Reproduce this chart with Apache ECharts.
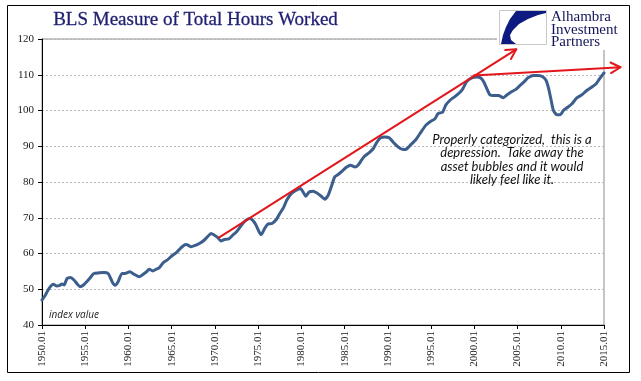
<!DOCTYPE html>
<html><head><meta charset="utf-8">
<script src="https://cdn.jsdelivr.net/npm/echarts@6/dist/echarts.min.js"></script>
<style>html,body{margin:0;padding:0;background:#fff}#c{width:641px;height:381px}</style>
</head><body><div id="c"></div>
<script>
const years = [1950.0,1950.4,1950.8,1951.3,1951.7,1952.05,1952.3,1952.55,1952.9,1953.3,1953.7,1954.1,1954.4,1954.8,1955.25,1955.6,1956.0,1956.6,1957.2,1957.65,1957.95,1958.15,1958.45,1958.8,1959.25,1959.6,1960.15,1960.65,1961.25,1961.6,1962.1,1962.4,1962.8,1963.2,1963.55,1964.0,1964.5,1965.0,1965.5,1966.0,1966.35,1966.7,1967.25,1967.75,1968.2,1968.65,1969.15,1969.55,1969.95,1970.3,1970.7,1971.1,1971.6,1972.05,1972.5,1973.0,1973.5,1974.0,1974.3,1974.7,1975.1,1975.35,1975.75,1976.1,1976.6,1977.1,1977.5,1977.95,1978.3,1978.85,1979.4,1979.9,1980.2,1980.5,1980.9,1981.35,1981.8,1982.3,1982.7,1983.1,1983.45,1983.85,1984.25,1984.75,1985.2,1985.7,1986.2,1986.55,1986.95,1987.3,1987.85,1988.3,1988.75,1989.15,1989.65,1990.15,1990.6,1991.2,1991.75,1992.15,1992.6,1993.25,1993.7,1994.4,1994.85,1995.45,1995.8,1996.35,1996.7,1997.25,1997.75,1998.25,1998.65,1999.1,1999.7,2000.3,2000.75,2001.1,2001.45,2001.8,2002.2,2002.8,2003.35,2003.8,2004.35,2004.8,2005.3,2005.75,2006.25,2006.85,2007.4,2007.95,2008.3,2008.6,2008.85,2009.15,2009.55,2009.95,2010.3,2010.8,2011.3,2011.85,2012.45,2013.0,2013.6,2014.1,2014.5,2015.0];
const hours = [47.0,48.4,50.2,51.4,50.9,51.1,51.5,51.2,53.0,53.3,52.6,51.4,50.7,51.2,52.3,53.3,54.4,54.6,54.7,54.4,53.0,51.9,51.1,52.1,54.4,54.4,54.9,54.2,53.5,54.0,54.9,55.6,55.1,55.6,56.0,57.4,58.2,59.3,60.2,61.4,62.2,62.5,61.9,62.3,62.8,63.5,64.7,65.6,65.1,64.5,63.5,63.9,64.1,65.1,66.1,67.7,69.1,69.8,69.5,68.2,66.1,65.3,67.0,68.2,68.4,69.5,71.2,72.9,74.9,76.8,77.7,78.2,77.2,76.0,77.2,77.4,76.9,76.0,75.2,76.3,78.6,81.4,82.1,83.1,84.1,84.7,84.2,84.7,86.1,87.2,88.2,89.3,91.2,92.4,92.6,92.4,91.2,89.8,89.1,89.2,90.3,91.9,93.5,95.9,96.8,97.7,99.1,99.6,101.5,103.0,103.9,104.9,106.0,108.0,109.1,109.4,109.1,108.0,106.1,104.4,104.2,104.2,103.6,104.4,105.3,105.9,107.0,108.0,109.2,109.8,109.8,109.4,108.4,106.1,103.3,100.0,98.8,98.8,100.0,100.9,101.9,103.5,104.4,105.6,106.6,107.5,108.9,110.5];
const xTickLabels = ['1950.01','1955.01','1960.01','1965.01','1970.01','1975.01','1980.01','1985.01','1990.01','1995.01','2000.01','2005.01','2010.01','2015.01'];
const yTickLabels = ['40','50','60','70','80','90','100','110','120'];
const arrowLong = [[1970.5, 64.5], [2004.85, 117.1]];
const arrowFlat = [[1999.9, 109.8], [2016.9, 112.1]];
const titleText = 'BLS Measure of Total Hours Worked';
const noteLines = ['Properly categorized,  this is a', 'depression.  Take away the', 'asset bubbles and it would', 'likely feel like it.'];
const logoLines = ['Alhambra', 'Investment', 'Partners'];

const chart = echarts.init(document.getElementById('c'), null, {renderer: 'canvas'});
const seriesData = years.map((y, i) => [y, hours[i]]);
chart.setOption({
  animation: false,
  backgroundColor: '#ffffff',
  grid: {left: 42, right: 37, top: 39, bottom: 56, show: true, borderColor: '#8c8c8c', borderWidth: 1, backgroundColor: 'transparent', outerBoundsMode: 'none'},
  xAxis: {
    type: 'value', min: 1950, max: 2015, interval: 5,
    axisLine: {show: true, onZero: false, lineStyle: {color: '#000', width: 1}},
    axisTick: {show: true, length: 4, inside: false, lineStyle: {color: '#000'}},
    splitLine: {show: false},
    axisLabel: {
      rotate: 90, margin: 6, color: '#1a1a1a', fontFamily: 'Liberation Serif', fontSize: 11,
      formatter: v => xTickLabels[Math.round((v - 1950) / 5)] || ''
    }
  },
  yAxis: {
    type: 'value', min: 40, max: 120, interval: 10,
    axisLine: {show: true, onZero: false, lineStyle: {color: '#000', width: 1}},
    axisTick: {show: true, length: 4, inside: false, lineStyle: {color: '#000'}},
    splitLine: {show: true, lineStyle: {color: '#b8b8b8', type: [2, 2], width: 1}},
    axisLabel: {
      margin: 8, color: '#1a1a1a', fontFamily: 'Liberation Serif', fontSize: 11,
      formatter: v => yTickLabels[Math.round((v - 40) / 10)] || ''
    }
  },
  series: [{
    type: 'line', data: seriesData, showSymbol: false, smooth: 0.2,
    lineStyle: {color: '#3b5e8c', width: 3, join: 'round', cap: 'round'},
    z: 3
  }]
});

function arrowGraphics(pair, idp) {
  const p0 = chart.convertToPixel({gridIndex: 0}, pair[0]);
  const p1 = chart.convertToPixel({gridIndex: 0}, pair[1]);
  const a = Math.atan2(p1[1] - p0[1], p1[0] - p0[0]);
  const L = 11, s = 0.5;
  const h1 = [p1[0] - L * Math.cos(a - s), p1[1] - L * Math.sin(a - s)];
  const h2 = [p1[0] - L * Math.cos(a + s), p1[1] - L * Math.sin(a + s)];
  const st = {stroke: '#e3161b', lineWidth: 2, fill: null, lineCap: 'round', lineJoin: 'round'};
  return [
    {type: 'polyline', id: idp + 'l', z: 20, shape: {points: [p0, p1]}, style: st},
    {type: 'polyline', id: idp + 'h', z: 20, shape: {points: [h1, p1, h2]}, style: st}
  ];
}

const logoMarkPts = [[516,11],[546,11],[546,13],[538,15],[528,19],[519,24],[513,30],[510,35],[511,40],[516,44],[501,44],[503,35],[506,27],[510,19]];

const graphics = [
  {type: 'rect', id: 'frame', z: 0, shape: {x: 7.5, y: 5.5, width: 622, height: 367}, style: {fill: null, stroke: '#000', lineWidth: 1}},
  {type: 'rect', id: 'logoBg', z: 10, shape: {x: 497, y: 7, width: 131, height: 43}, style: {fill: '#fff'}},
  {type: 'rect', id: 'logoBox', z: 11, shape: {x: 499.5, y: 10.5, width: 47, height: 34}, style: {fill: '#fff', stroke: '#c8c8c8', lineWidth: 1}},
  {type: 'polygon', id: 'logoMark', z: 12, shape: {points: logoMarkPts}, style: {fill: '#0d1a80'}},
  {type: 'text', id: 'logoText', z: 12, left: 551, top: 10, style: {text: logoLines.join('\n'), font: '15px "Liberation Serif"', lineHeight: 12.5, fill: '#14145a'}},
  {type: 'text', id: 'title', z: 12, left: 53, top: 10, style: {text: titleText, font: '19px "Liberation Serif"', fill: '#1f1f72', stroke: '#1f1f72', lineWidth: 0.3}},
  {type: 'text', id: 'idx', z: 12, left: 49, top: 310, style: {text: 'index value', font: 'italic 10px "Open Sans"', fill: '#222'}},
  {type: 'text', id: 'note', z: 12, x: 512, y: 133, style: {text: noteLines.join('\n'), font: 'italic 13px Lato', lineHeight: 13.4, fill: '#111', textAlign: 'center', textVerticalAlign: 'top'}}
].concat(arrowGraphics(arrowLong, 'a1')).concat(arrowGraphics(arrowFlat, 'a2'));

chart.setOption({graphic: graphics});
</script>
</body></html>
